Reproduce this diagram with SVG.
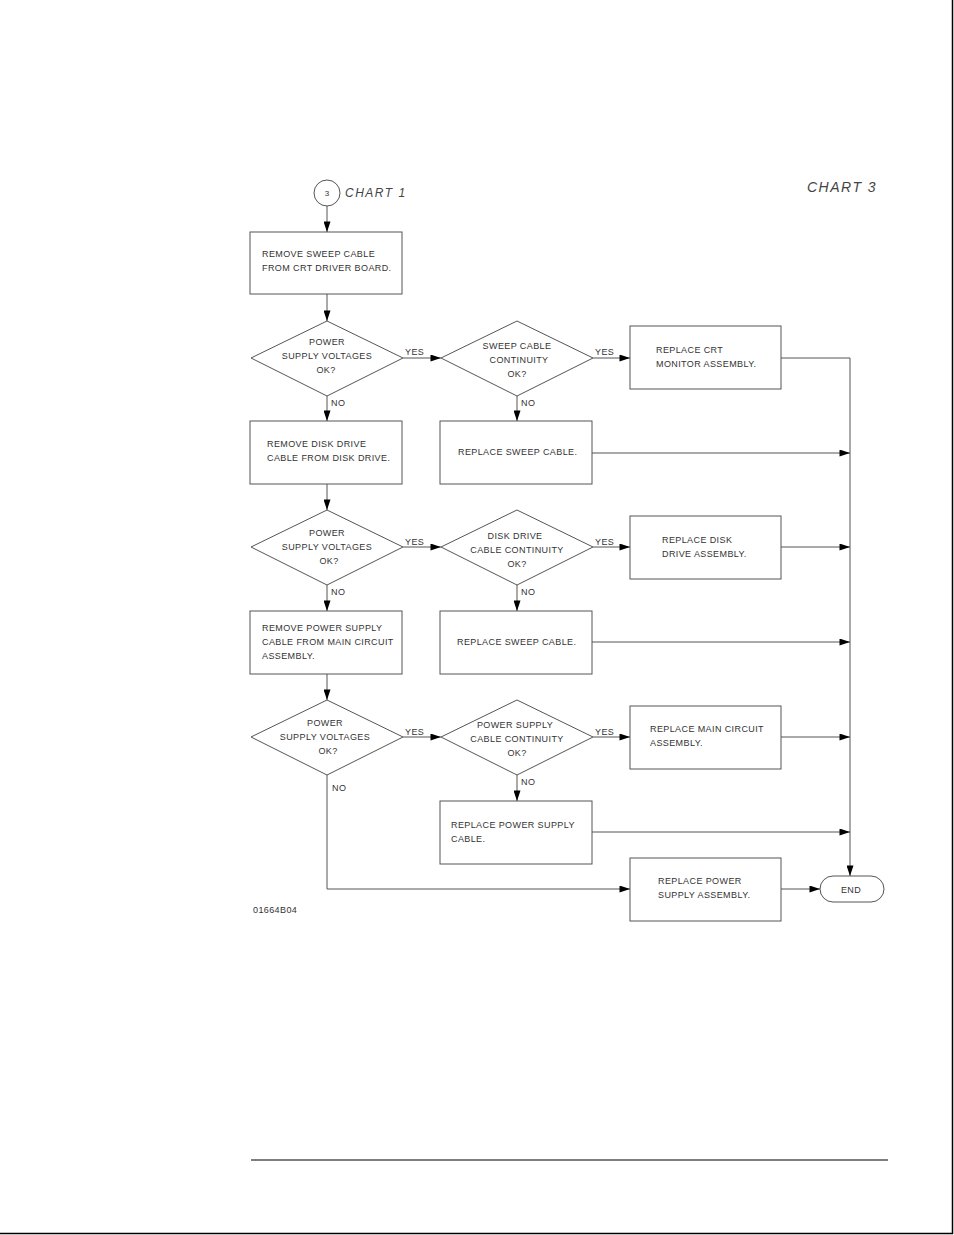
<svg xmlns="http://www.w3.org/2000/svg" width="954" height="1235" viewBox="0 0 954 1235">
<defs>
<style>
.n{fill:none;stroke:#555;stroke-width:1}
.c{fill:none;stroke:#555;stroke-width:1}
text{font-family:"Liberation Sans",Arial,sans-serif;font-size:9px;fill:#333;letter-spacing:0.4px}
.m{text-anchor:middle}
.it{font-style:italic;font-size:12px;letter-spacing:1.5px;fill:#444}
</style>
<marker id="a" viewBox="0 0 12 8" refX="12" refY="4" markerWidth="11" markerHeight="7" markerUnits="userSpaceOnUse" orient="auto">
<path d="M0,0 L12,4 L0,8 Z" fill="#000"/>
</marker>
</defs>
<rect width="954" height="1235" fill="#fff"/>
<line x1="952.5" y1="0" x2="952.5" y2="1234" stroke="#000" stroke-width="1.5"/>
<line x1="0" y1="1233.5" x2="953" y2="1233.5" stroke="#000" stroke-width="1.5"/>
<line x1="251" y1="1160" x2="888" y2="1160" stroke="#000" stroke-width="1.2"/>
<text class="it" x="807" y="192" style="font-size:14px">CHART 3</text>
<text x="253" y="913">01664B04</text>

<g id="start">
<circle class="n" cx="327" cy="193" r="13"/>
<text class="m" x="327" y="196" style="font-size:8px;letter-spacing:0">3</text>
<text class="it" x="345" y="197">CHART 1</text>
</g>
<g id="box1"><rect class="n" x="250" y="232" width="152" height="62"/>
<text x="262" y="257">REMOVE SWEEP CABLE</text><text x="262" y="271">FROM CRT DRIVER BOARD.</text></g>
<g id="d1"><polygon class="n" points="327,321 403,358 327,396 251,358"/>
<text class="m" x="327" y="345">POWER</text><text class="m" x="327" y="359">SUPPLY VOLTAGES</text><text class="m" x="326" y="373">OK?</text></g>
<g id="d2"><polygon class="n" points="517,321 593,358 517,396 441,358"/>
<text class="m" x="517" y="349">SWEEP CABLE</text><text class="m" x="519" y="363">CONTINUITY</text><text class="m" x="517" y="377">OK?</text></g>
<g id="crt"><rect class="n" x="630" y="326" width="151" height="63"/>
<text x="656" y="353">REPLACE CRT</text><text x="656" y="367">MONITOR ASSEMBLY.</text></g>
<g id="box2"><rect class="n" x="250" y="421" width="152" height="63"/>
<text x="267" y="447">REMOVE DISK DRIVE</text><text x="267" y="461">CABLE FROM DISK DRIVE.</text></g>
<g id="sweep1"><rect class="n" x="440" y="421" width="152" height="63"/>
<text x="458" y="455">REPLACE SWEEP CABLE.</text></g>
<g id="d3"><polygon class="n" points="327,510 403,547 327,585 251,547"/>
<text class="m" x="327" y="536">POWER</text><text class="m" x="327" y="550">SUPPLY VOLTAGES</text><text class="m" x="329" y="564">OK?</text></g>
<g id="d4"><polygon class="n" points="517,510 593,547 517,585 441,547"/>
<text class="m" x="515" y="539">DISK DRIVE</text><text class="m" x="517" y="553">CABLE CONTINUITY</text><text class="m" x="517" y="567">OK?</text></g>
<g id="disk"><rect class="n" x="630" y="516" width="151" height="63"/>
<text x="662" y="543">REPLACE DISK</text><text x="662" y="557">DRIVE ASSEMBLY.</text></g>
<g id="box3"><rect class="n" x="250" y="611" width="152" height="63"/>
<text x="262" y="631">REMOVE POWER SUPPLY</text><text x="262" y="645">CABLE FROM MAIN CIRCUIT</text><text x="262" y="659">ASSEMBLY.</text></g>
<g id="sweep2"><rect class="n" x="440" y="611" width="152" height="63"/>
<text x="457" y="645">REPLACE SWEEP CABLE.</text></g>
<g id="d5"><polygon class="n" points="327,700 403,737 327,775 251,737"/>
<text class="m" x="325" y="726">POWER</text><text class="m" x="325" y="740">SUPPLY VOLTAGES</text><text class="m" x="328" y="754">OK?</text></g>
<g id="d6"><polygon class="n" points="517,700 593,737 517,775 441,737"/>
<text class="m" x="515" y="728">POWER SUPPLY</text><text class="m" x="517" y="742">CABLE CONTINUITY</text><text class="m" x="517" y="756">OK?</text></g>
<g id="main"><rect class="n" x="630" y="706" width="151" height="63"/>
<text x="650" y="732">REPLACE MAIN CIRCUIT</text><text x="650" y="746">ASSEMBLY.</text></g>
<g id="pscable"><rect class="n" x="440" y="801" width="152" height="63"/>
<text x="451" y="828">REPLACE POWER SUPPLY</text><text x="451" y="842">CABLE.</text></g>
<g id="psasm"><rect class="n" x="630" y="858" width="151" height="63"/>
<text x="658" y="884">REPLACE POWER</text><text x="658" y="898">SUPPLY ASSEMBLY.</text></g>
<g id="end"><rect class="n" x="820" y="876" width="64" height="26" rx="13"/>
<text class="m" x="851" y="893">END</text></g>

<g id="connectors">
<line class="c" x1="327" y1="206" x2="327" y2="232" marker-end="url(#a)"/>
<line class="c" x1="327" y1="294" x2="327" y2="321" marker-end="url(#a)"/>
<line class="c" x1="403" y1="358" x2="441" y2="358" marker-end="url(#a)"/>
<line class="c" x1="593" y1="358" x2="630" y2="358" marker-end="url(#a)"/>
<polyline class="c" points="781,358 850,358 850,876" marker-end="url(#a)"/>
<line class="c" x1="327" y1="396" x2="327" y2="421" marker-end="url(#a)"/>
<line class="c" x1="517" y1="396" x2="517" y2="421" marker-end="url(#a)"/>
<line class="c" x1="592" y1="453" x2="850" y2="453" marker-end="url(#a)"/>
<line class="c" x1="327" y1="484" x2="327" y2="510" marker-end="url(#a)"/>
<line class="c" x1="403" y1="547" x2="441" y2="547" marker-end="url(#a)"/>
<line class="c" x1="593" y1="547" x2="630" y2="547" marker-end="url(#a)"/>
<line class="c" x1="781" y1="547" x2="850" y2="547" marker-end="url(#a)"/>
<line class="c" x1="327" y1="585" x2="327" y2="611" marker-end="url(#a)"/>
<line class="c" x1="517" y1="585" x2="517" y2="611" marker-end="url(#a)"/>
<line class="c" x1="592" y1="642" x2="850" y2="642" marker-end="url(#a)"/>
<line class="c" x1="327" y1="674" x2="327" y2="700" marker-end="url(#a)"/>
<line class="c" x1="403" y1="737" x2="441" y2="737" marker-end="url(#a)"/>
<line class="c" x1="593" y1="737" x2="630" y2="737" marker-end="url(#a)"/>
<line class="c" x1="781" y1="737" x2="850" y2="737" marker-end="url(#a)"/>
<line class="c" x1="517" y1="775" x2="517" y2="801" marker-end="url(#a)"/>
<line class="c" x1="592" y1="832" x2="850" y2="832" marker-end="url(#a)"/>
<polyline class="c" points="327,775 327,889 630,889" marker-end="url(#a)"/>
<line class="c" x1="781" y1="889" x2="820" y2="889" marker-end="url(#a)"/>
<text x="405" y="355">YES</text>
<text x="595" y="355">YES</text>
<text x="405" y="545">YES</text>
<text x="595" y="545">YES</text>
<text x="405" y="735">YES</text>
<text x="595" y="735">YES</text>
<text x="331" y="406">NO</text>
<text x="521" y="406">NO</text>
<text x="331" y="595">NO</text>
<text x="521" y="595">NO</text>
<text x="332" y="791">NO</text>
<text x="521" y="785">NO</text>
</g>
</svg>
